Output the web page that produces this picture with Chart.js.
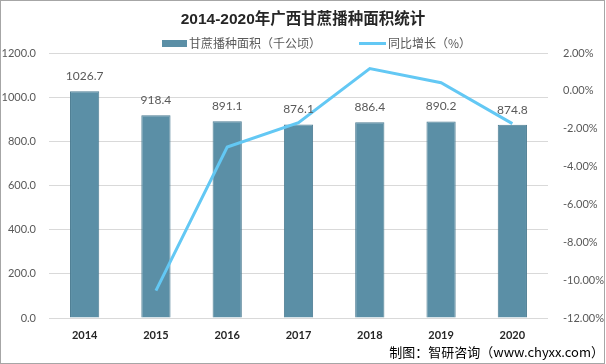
<!DOCTYPE html>
<html>
<head>
<meta charset="utf-8">
<script src="https://cdn.jsdelivr.net/npm/chart.js@4.4.0/dist/chart.umd.min.js"></script>
<style>
  html, body { margin: 0; padding: 0; background: #fff; }
  #wrap { width: 606px; height: 364px; position: relative; }
</style>
</head>
<body>
<div id="wrap"><canvas id="chart" width="606" height="364"></canvas></div>
<script>
const years = ['2014', '2015', '2016', '2017', '2018', '2019', '2020'];
const area = [1026.7, 918.4, 891.1, 876.1, 886.4, 890.2, 874.8];
const growth = [null, -10.55, -2.97, -1.68, 1.18, 0.43, -1.73];

const BAR_COLOR = '#5b8fa6';
const LINE_COLOR = '#63c8f4';
const TEXT_GRAY = '#595959';
const CJK = '"Noto Sans CJK SC", "Noto Sans", sans-serif';
const NUM = 'Lato, "Liberation Sans", sans-serif';

// title, legend, source, frame and bar labels drawn by hand
const decor = {
  id: 'decor',
  afterDraw(chart) {
    const ctx = chart.ctx;
    ctx.save();
    ctx.textBaseline = 'middle';

    ctx.fillStyle = '#262626';
    ctx.font = 'bold 15.5px "Liberation Sans", ' + CJK;
    ctx.textAlign = 'center';
    ctx.fillText('2014-2020年广西甘蔗播种面积统计', 303, 20);

    ctx.font = '12px ' + CJK;
    ctx.textAlign = 'left';
    ctx.fillStyle = BAR_COLOR;
    ctx.fillRect(162, 40, 25, 7);
    ctx.fillStyle = TEXT_GRAY;
    ctx.fillText('甘蔗播种面积（千公顷）', 189, 43);
    ctx.fillStyle = LINE_COLOR;
    ctx.fillRect(359, 42, 27, 3);
    ctx.fillStyle = TEXT_GRAY;
    ctx.fillText('同比增长（%）', 388, 43);

    ctx.fillStyle = '#000';
    ctx.font = '13px ' + CJK;
    ctx.textAlign = 'right';
    ctx.fillText('制图：智研咨询（www.chyxx.com）', 604, 352);

    ctx.strokeStyle = '#a6a6a6';
    ctx.lineWidth = 1;
    ctx.strokeRect(0.5, 0.5, 604, 363);

    const meta = chart.getDatasetMeta(1);
    ctx.fillStyle = TEXT_GRAY;
    ctx.font = '12px ' + NUM;
    ctx.textAlign = 'center';
    meta.data.forEach((bar, i) => {
      ctx.fillText(area[i].toFixed(1), bar.x, bar.y - 15);
    });
    ctx.restore();
  }
};

new Chart(document.getElementById('chart'), {
  data: {
    labels: years,
    datasets: [
      {
        type: 'line',
        label: '同比增长（%）',
        data: growth,
        yAxisID: 'y1',
        borderColor: LINE_COLOR,
        borderWidth: 3,
        pointRadius: 0,
        tension: 0,
        spanGaps: false,
        order: 0
      },
      {
        type: 'bar',
        label: '甘蔗播种面积（千公顷）',
        data: area,
        yAxisID: 'y',
        backgroundColor: BAR_COLOR,
        borderColor: '#4d7d93',
        borderWidth: 1,
        categoryPercentage: 1,
        barPercentage: 0.41,
        order: 1
      }
    ]
  },
  options: {
    responsive: false,
    animation: false,
    layout: { padding: { top: 53, bottom: 16, left: 0, right: 0 } },
    plugins: {
      legend: { display: false },
      title: { display: false },
      tooltip: { enabled: false }
    },
    scales: {
      x: {
        grid: { display: false },
        border: { display: false },
        ticks: {
          color: '#262626',
          font: { family: NUM, size: 11, weight: 'bold' },
          padding: 3
        },
        afterFit(axis) { axis.height = 30; }
      },
      y: {
        position: 'left',
        min: 0,
        max: 1200,
        ticks: {
          stepSize: 200,
          color: TEXT_GRAY,
          font: { family: NUM, size: 11 },
          padding: 13,
          callback: v => v.toFixed(1)
        },
        grid: { color: '#d9d9d9', drawTicks: false },
        border: { display: false },
        afterFit(axis) { axis.width = 49; }
      },
      y1: {
        position: 'right',
        min: -12,
        max: 2,
        ticks: {
          stepSize: 2,
          color: TEXT_GRAY,
          font: { family: NUM, size: 11 },
          padding: 15,
          callback: v => v.toFixed(2) + '%'
        },
        grid: { display: false, drawTicks: false },
        border: { display: false },
        afterFit(axis) { axis.width = 58; }
      }
    }
  },
  plugins: [decor]
});
</script>
</body>
</html>
